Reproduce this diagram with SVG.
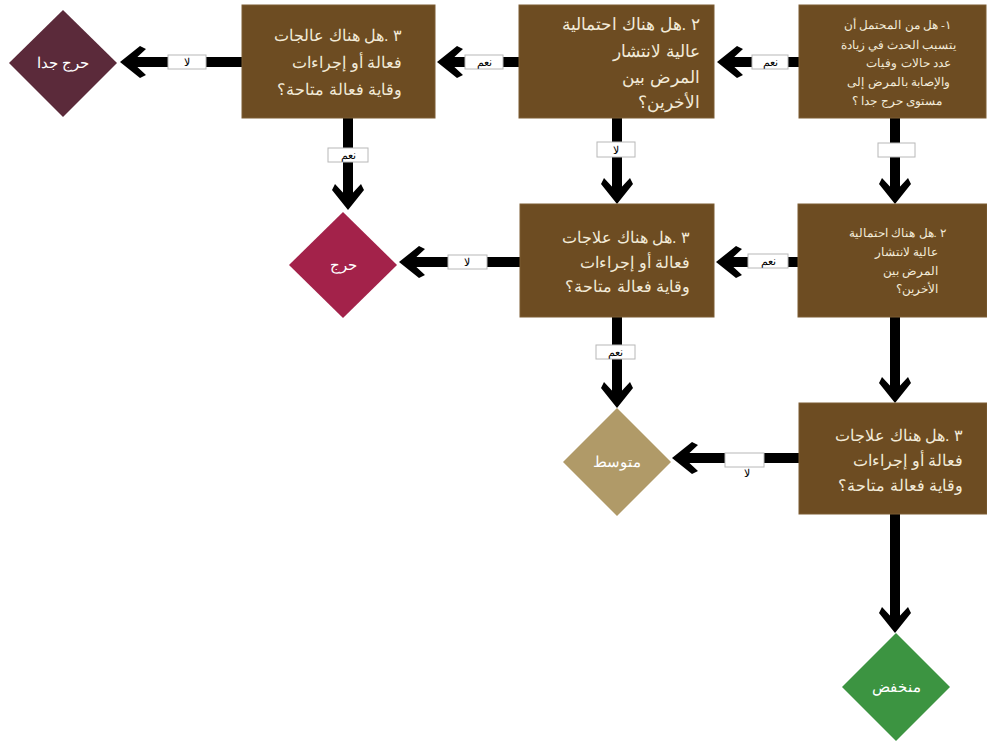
<svg xmlns="http://www.w3.org/2000/svg" width="987" height="742" viewBox="0 0 987 742">
<style>
.box{fill:#6D4C22;stroke:#7d5d33;stroke-width:1}
.bt{fill:#F2EAD8;font-family:"Liberation Sans","Noto Sans",sans-serif;direction:rtl}
.dt{fill:#FFFFFF;font-family:"Liberation Sans","Noto Sans",sans-serif;font-size:15px;text-anchor:middle}
.conn{stroke:#000;stroke-width:10;fill:none;marker-end:url(#ah)}
.lb{fill:#fff;stroke:#b8b8b8;stroke-width:1}
.lt{fill:#000;font-family:"Liberation Sans","Noto Sans",sans-serif;font-size:11px;text-anchor:middle}
</style>
<defs>
<marker id="ah" markerUnits="userSpaceOnUse" viewBox="-28 -18 30 36" markerWidth="30" markerHeight="36" refX="-10" refY="0" orient="auto">
<polygon points="0,0 -20,-16 -26,-13 -12,0 -26,13 -20,16" fill="#000"/>
</marker>
</defs>

<g id="connectors">
<path class="conn" d="M799,62 H727"/>
<path class="conn" d="M519,62 H447"/>
<path class="conn" d="M242,62 H130"/>
<path class="conn" d="M348,118 V200"/>
<path class="conn" d="M617,118 V194"/>
<path class="conn" d="M520,262 H409"/>
<path class="conn" d="M798,262 H726"/>
<path class="conn" d="M895,118 V194"/>
<path class="conn" d="M895,317 V393"/>
<path class="conn" d="M617,317 V398"/>
<path class="conn" d="M799,458 H682"/>
<path class="conn" d="M895,514 V623"/>
<g id="labels">
<rect class="lb" x="752" y="55" width="36" height="14"/><text class="lt" x="770" y="66">نعم</text>
<rect class="lb" x="465" y="55" width="38" height="14"/><text class="lt" x="484" y="66">نعم</text>
<rect class="lb" x="168" y="55" width="38" height="14"/><text class="lt" x="187" y="66">لا</text>
<rect class="lb" x="328" y="148" width="40" height="14"/><text class="lt" x="348" y="159">نعم</text>
<rect class="lb" x="597" y="142" width="38" height="15"/><text class="lt" x="616" y="154">لا</text>
<rect class="lb" x="448" y="255" width="39" height="14"/><text class="lt" x="467" y="266">لا</text>
<rect class="lb" x="748" y="254" width="40" height="14"/><text class="lt" x="768" y="265">نعم</text>
<rect class="lb" x="878" y="143" width="37" height="14"/>
<rect class="lb" x="596" y="345" width="39" height="14"/><text class="lt" x="615" y="356">نعم</text>
<rect class="lb" x="725" y="453" width="39" height="14"/><text class="lt" x="747" y="477" font-size="12">لا</text>
</g>
</g>

<g id="q1">
<rect class="box" x="799" y="5" width="187" height="113"/>
<text class="bt" font-size="11.5" text-anchor="middle">
<tspan x="896" y="29">١- هل من المحتمل أن</tspan>
<tspan x="897" y="49">يتسبب الحدث في زيادة</tspan>
<tspan x="907" y="67">عدد حالات وفيات</tspan>
<tspan x="897" y="86">والإصابة بالمرض إلى</tspan>
<tspan x="897" y="105">مستوى حرج جدا ؟</tspan>
</text>
</g>

<g id="q2a">
<rect class="box" x="519" y="5" width="195" height="113"/>
<text class="bt" font-size="17" text-anchor="start">
<tspan x="700" y="30">٢ .هل هناك احتمالية</tspan>
<tspan x="700" y="57">عالية لانتشار</tspan>
<tspan x="700" y="83">المرض بين</tspan>
<tspan x="700" y="108">الأخرين؟</tspan>
</text>
</g>

<g id="q3a">
<rect class="box" x="242" y="5" width="193" height="113"/>
<text class="bt" font-size="16" text-anchor="start">
<tspan x="402" y="41">٣ .هل هناك عالجات</tspan>
<tspan x="402" y="68">فعالة أو إجراءات</tspan>
<tspan x="402" y="95">وقاية فعالة متاحة؟</tspan>
</text>
</g>

<g id="q3b">
<rect class="box" x="520" y="204" width="194" height="113"/>
<text class="bt" font-size="16" text-anchor="start">
<tspan x="690" y="243">٣ .هل هناك علاجات</tspan>
<tspan x="690" y="268">فعالة أو إجراءات</tspan>
<tspan x="690" y="292">وقاية فعالة متاحة؟</tspan>
</text>
</g>

<g id="q2b">
<rect class="box" x="798" y="204" width="189" height="113"/>
<text class="bt" font-size="11.5" text-anchor="start">
<tspan x="946" y="237">٢ .هل هناك احتمالية</tspan>
<tspan x="938" y="256">عالية لانتشار</tspan>
<tspan x="938" y="275">المرض بين</tspan>
<tspan x="938" y="293">الأخرين؟</tspan>
</text>
</g>

<g id="q3c">
<rect class="box" x="799" y="403" width="188" height="111"/>
<text class="bt" font-size="16" text-anchor="start">
<tspan x="963" y="441">٣ .هل هناك علاجات</tspan>
<tspan x="963" y="466">فعالة أو إجراءات</tspan>
<tspan x="963" y="491">وقاية فعالة متاحة؟</tspan>
</text>
</g>

<g id="d-very-critical">
<polygon points="63,10 117,63 63,117 9,63" fill="#5B2A3A"/>
<text class="dt" x="63" y="68">حرج جدا</text>
</g>
<g id="d-critical">
<polygon points="343,212 397,265 343,318 289,265" fill="#A3224A"/>
<text class="dt" x="343" y="270">حرج</text>
</g>
<g id="d-medium">
<polygon points="617,408 671,462 617,516 563,462" fill="#B09A68"/>
<text class="dt" x="617" y="467">متوسط</text>
</g>
<g id="d-low">
<polygon points="896,633 950,687 896,741 842,687" fill="#3C9441"/>
<text class="dt" x="896" y="692">منخفض</text>
</g>
</svg>
